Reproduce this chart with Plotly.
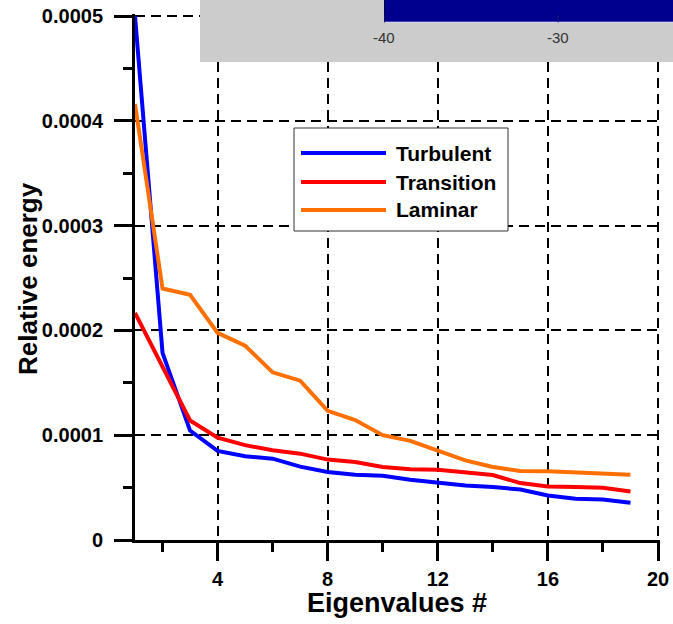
import plotly.graph_objects as go

# ---- data ----
eigen_index = list(range(1, 20))
turbulent = [5.0e-4, 1.785e-4, 1.044e-4, 0.85e-4, 0.80e-4, 0.776e-4, 0.70e-4, 0.649e-4,
             0.623e-4, 0.613e-4, 0.575e-4, 0.543e-4, 0.52e-4, 0.505e-4, 0.482e-4,
             0.425e-4, 0.393e-4, 0.387e-4, 0.355e-4]
transition = [2.167e-4, 1.657e-4, 1.14e-4, 0.977e-4, 0.905e-4, 0.856e-4, 0.824e-4, 0.767e-4,
              0.744e-4, 0.696e-4, 0.674e-4, 0.671e-4, 0.645e-4, 0.62e-4, 0.543e-4,
              0.511e-4, 0.505e-4, 0.498e-4, 0.463e-4]
laminar = [4.16e-4, 2.40e-4, 2.34e-4, 1.976e-4, 1.855e-4, 1.60e-4, 1.52e-4, 1.232e-4,
           1.144e-4, 1.0e-4, 0.946e-4, 0.85e-4, 0.76e-4, 0.696e-4, 0.658e-4,
           0.655e-4, 0.642e-4, 0.636e-4, 0.623e-4]

series_names = ["Turbulent", "Transition", "Laminar"]
series_values = [turbulent, transition, laminar]
series_colors = ["#0000FF", "#FF0000", "#FF7000"]

x_tickvals = [4, 8, 12, 16, 20]
x_ticktext = ["4", "8", "12", "16", "20"]
x_minor = [2, 6, 10, 14, 18]
y_tickvals = [0, 0.0001, 0.0002, 0.0003, 0.0004, 0.0005]
y_ticktext = ["0", "0.0001", "0.0002", "0.0003", "0.0004", "0.0005"]
y_minor = [0.00005, 0.00015, 0.00025, 0.00035, 0.00045]

x_title = "Eigenvalues #"
y_title = "Relative energy"

inset_range = [-40, -23.4]
inset_ticks = [-40, -30]
inset_ticktext = ["-40", "-30"]

FONT = "Liberation Sans, Arial, Helvetica, sans-serif"

W, H = 673, 624
ml, mr, mt, mb = 135, 0, 0, 84
pw, ph = W - ml - mr, H - mt - mb

# axis ranges are padded a hair so that the edge gridlines (x=20, y=0.0005) are drawn
X_RANGE = [1, 20.06]
Y_RANGE = [0, 0.000502]


def px(xs):  # page x -> paper x
    return (xs - ml) / pw


def py(ys):  # page y -> paper y
    return (H - mb - ys) / ph


x_right = 135 + (X_RANGE[1] - 1) * (658 - 135) / 19.0
y_top = 540 - (Y_RANGE[1] / 0.0005) * (540 - 16)

fig = go.Figure()
for name, vals, col in zip(series_names, series_values, series_colors):
    fig.add_trace(go.Scatter(x=eigen_index, y=vals, mode="lines", name=name,
                             line=dict(color=col, width=4), showlegend=False,
                             cliponaxis=False))

# inset axes (cropped colour-map strip at top)
fig.add_trace(go.Scatter(x=inset_range, y=[0, 1], xaxis="x2", yaxis="y2",
                         mode="lines", line=dict(width=0), showlegend=False,
                         hoverinfo="skip"))

fig.update_layout(
    width=W, height=H,
    margin=dict(l=ml, r=mr, t=mt, b=mb, autoexpand=False),
    paper_bgcolor="white", plot_bgcolor="white",
    font=dict(family=FONT, color="black"),
    xaxis=dict(
        domain=[0, px(x_right)], range=X_RANGE, anchor="y", automargin=False,
        tickmode="array", tickvals=x_tickvals, ticktext=x_ticktext,
        ticks="outside", ticklen=18, tickwidth=3, tickcolor="black",
        ticklabelstandoff=1, ticklabeloverflow="allow",
        tickfont=dict(size=20, family=FONT, weight="bold"),
        showline=True, linecolor="black", linewidth=3,
        showgrid=True, gridcolor="black", gridwidth=2, griddash="10px,6px",
        zeroline=False,
        minor=dict(tickmode="array", tickvals=x_minor, ticks="outside", ticklen=9,
                   tickwidth=3, tickcolor="black", showgrid=False),
    ),
    yaxis=dict(
        domain=[0, py(y_top)], range=Y_RANGE, anchor="x", automargin=False,
        tickmode="array", tickvals=y_tickvals, ticktext=y_ticktext,
        ticks="outside", ticklen=18, tickwidth=3, tickcolor="black",
        ticklabelstandoff=7, ticklabeloverflow="allow",
        tickfont=dict(size=20, family=FONT, weight="bold"),
        showline=True, linecolor="black", linewidth=3,
        showgrid=True, gridcolor="black", gridwidth=2, griddash="10px,6px",
        zeroline=False,
        minor=dict(tickmode="array", tickvals=y_minor, ticks="outside", ticklen=9,
                   tickwidth=3, tickcolor="black", showgrid=False),
    ),
    xaxis2=dict(
        domain=[px(384), 1], range=inset_range, anchor="y2", automargin=False,
        showticklabels=False, ticks="", showline=False,
        showgrid=False, zeroline=False,
    ),
    yaxis2=dict(
        domain=[py(22.7), 1], range=[0, 1], anchor="x2", automargin=False,
        showticklabels=False, ticks="", showline=False,
        showgrid=False, zeroline=False,
    ),
)

shapes = []
# grey inset background
shapes.append(dict(type="rect", xref="paper", yref="paper",
                   x0=px(200), x1=1.0, y0=py(62), y1=1.0,
                   fillcolor="#CCCCCC", line=dict(width=0), layer="above"))
# dark blue strip of the inset
shapes.append(dict(type="rect", xref="x2", yref="y2",
                   x0=inset_range[0], x1=inset_range[1], y0=0, y1=1,
                   fillcolor="#00008F", line=dict(width=0), layer="above"))
shapes.append(dict(type="line", xref="x2", yref="y2",
                   x0=inset_range[0], x1=inset_range[1], y0=0, y1=0,
                   line=dict(color="white", width=2), layer="above"))
shapes.append(dict(type="line", xref="x2", yref="y2",
                   x0=inset_range[0], x1=inset_range[0], y0=0, y1=1,
                   line=dict(color="black", width=1), layer="above"))
for t in inset_ticks:
    shapes.append(dict(type="line", xref="x2", yref="y2",
                       x0=t, x1=t, y0=0, y1=0.35,
                       line=dict(color="#1a1a70", width=1), layer="above"))

annotations = []
for t, lab in zip(inset_ticks, inset_ticktext):
    annotations.append(dict(xref="x2", yref="y2", x=t, y=0, yanchor="top",
                            xanchor="center", yshift=-4, showarrow=False, text=lab,
                            font=dict(size=15, family=FONT, color="#333333")))

# axis titles
annotations.append(dict(xref="paper", yref="paper", x=px(397), y=py(603),
                        xanchor="center", yanchor="middle", showarrow=False, borderpad=0,
                        text=x_title, font=dict(size=27, family=FONT, weight="bold")))
annotations.append(dict(xref="paper", yref="paper", x=px(28), y=py(279),
                        xanchor="center", yanchor="middle", showarrow=False, borderpad=0,
                        textangle=-90,
                        text=y_title, font=dict(size=26, family=FONT, weight="bold")))

# legend box
shapes.append(dict(type="rect", xref="paper", yref="paper",
                   x0=px(294), x1=px(508), y0=py(231), y1=py(128),
                   fillcolor="white", line=dict(color="#333333", width=1), layer="above"))
legend_y = [153, 182, 210]
for name, col, ly in zip(series_names, series_colors, legend_y):
    shapes.append(dict(type="line", xref="paper", yref="paper",
                       x0=px(301), x1=px(386), y0=py(ly), y1=py(ly),
                       line=dict(color=col, width=4), layer="above"))
    annotations.append(dict(xref="paper", yref="paper", x=px(394), y=py(ly),
                            xanchor="left", yanchor="middle", showarrow=False,
                            text=name, font=dict(size=21, family=FONT, weight="bold",
                                                 color="black")))
fig.update_layout(shapes=shapes, annotations=annotations)

# remove the default 8px page margin so the figure fills the 673x624 window exactly
fig.write_html("out.html", config={"displayModeBar": False},
               post_script="document.body.style.margin='0';document.body.style.overflow='hidden';")
